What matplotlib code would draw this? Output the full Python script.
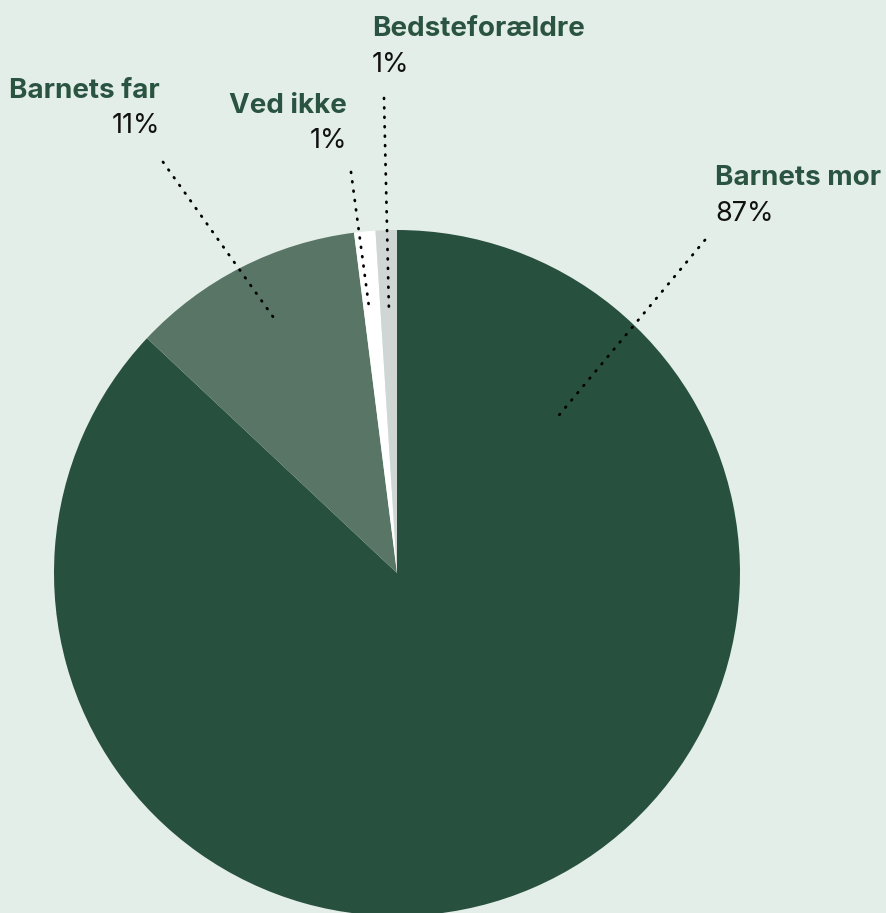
import matplotlib.pyplot as plt

# data
labels = ["Barnets mor", "Barnets far", "Ved ikke", "Bedsteforældre"]
values = [87, 11, 1, 1]
pct_labels = ["87%", "11%", "1%", "1%"]
colors = ["#28503f", "#587566", "#ffffff", "#d0d6d3"]

bg = "#e3eee8"
label_col = "#2a5441"
plt.rcParams['font.family'] = ['Inter', 'DejaVu Sans']

W, H = 886, 913
fig = plt.figure(figsize=(W / 100, H / 100), dpi=100, facecolor=bg)
ax = fig.add_axes([0, 0, 1, 1])
ax.set_facecolor(bg)

cx, cy, R = 397, H - 573, 343
ax.pie(values, colors=colors, startangle=90, counterclock=False,
       center=(cx, cy), radius=R, wedgeprops=dict(linewidth=0))
ax.set_xlim(0, W)
ax.set_ylim(0, H)
ax.set_aspect('equal')
ax.axis('off')

# label layout: (x, bold baseline y, pct baseline y, align, leader start, leader end)
layout = [
    (715, 185, 221, 'left', (705, 240), (555, 420)),
    (160, 98, 133, 'right', (163, 162), (276, 321)),
    (347, 113, 148, 'right', (351, 172), (369, 307)),
    (372, 36, 72, 'left', (384, 98), (389, 313)),
]

for lab, pct, (x, y1, y2, ha, p0, p1) in zip(labels, pct_labels, layout):
    ax.text(x, H - y1, lab, fontsize=20, fontweight='bold', color=label_col,
            ha=ha, va='baseline')
    ax.text(x, H - y2, pct, fontsize=19.5, color='#111111', ha=ha, va='baseline')
    ax.plot([p0[0], p1[0]], [H - p0[1], H - p1[1]], color='black', lw=2,
            linestyle=(0, (0.3, 3.1)), dash_capstyle='round')

fig.savefig("out.png", dpi=100, facecolor=bg)
